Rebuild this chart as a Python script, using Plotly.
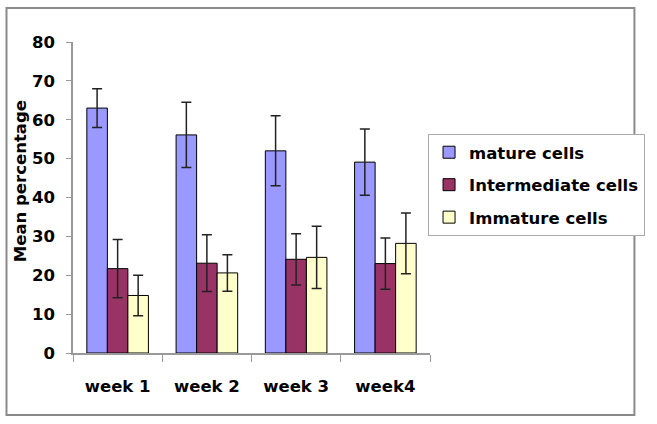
import plotly.graph_objects as go

categories = ["week 1", "week 2", "week 3", "week4"]
mature = [63.0, 56.1, 52.0, 49.1]
mature_err = [5.0, 8.4, 9.0, 8.5]
intermediate = [21.7, 23.1, 24.1, 23.0]
intermediate_err = [7.5, 7.3, 6.6, 6.6]
immature = [14.8, 20.6, 24.6, 28.2]
immature_err = [5.2, 4.7, 8.0, 7.8]
y_ticks = [0, 10, 20, 30, 40, 50, 60, 70, 80]
y_title = "Mean percentage"

series = [
    ("mature cells", mature, mature_err, "#9999FF"),
    ("Intermediate cells", intermediate, intermediate_err, "#993366"),
    ("Immature cells", immature, immature_err, "#FFFFCC"),
]

FONT = "DejaVu Sans"
FS = 16.5
fig = go.Figure()
for i, (name, vals, errs, col) in enumerate(series):
    fig.add_trace(go.Bar(
        x=categories, y=vals, name=name, legendgroup=f"g{i}",
        marker=dict(color=col, line=dict(color="#000000", width=1)),
        error_y=dict(type="data", array=errs, visible=True,
                     color="#222222", thickness=1.5, width=5),
    ))

W, H = 657, 424
ml, mr, mt, mb = 73, 219, 42, 71
pw, ph = W - ml - mr, H - mt - mb

def px_x(p):
    return (p - ml) / pw

def px_y(p):
    return (H - mb - p) / ph

fig.update_layout(
    width=W, height=H,
    margin=dict(l=ml, r=mr, t=mt, b=mb, pad=0),
    paper_bgcolor="white", plot_bgcolor="white",
    barmode="group", bargap=0.31, bargroupgap=0,
    font=dict(family=FONT, color="#000000", size=FS, weight="bold"),
    showlegend=True,
    legend=dict(
        x=px_x(436), y=px_y(134), xanchor="left", yanchor="top",
        bordercolor="#AAAAAA", borderwidth=1, bgcolor="white",
        font=dict(family=FONT, size=FS, color="#000000", weight="bold"),
        tracegroupgap=8, traceorder="grouped",
    ),
    xaxis=dict(
        showline=True, linecolor="#999999", linewidth=1.5,
        ticks="outside", tickson="boundaries", ticklen=7, tickcolor="#999999",
        tickfont=dict(family=FONT, size=FS, weight="bold"),
        ticklabelstandoff=17, showgrid=False,
    ),
    yaxis=dict(
        range=[0, 80], tickvals=y_ticks,
        showline=True, linecolor="#999999", linewidth=1.5,
        ticks="outside", ticklen=5, tickcolor="#999999",
        tickfont=dict(family=FONT, size=FS, weight="bold"),
        ticklabelstandoff=8, showgrid=False, zeroline=False,
    ),
    annotations=[dict(
        text=y_title, textangle=-90, showarrow=False,
        xref="paper", yref="paper", x=px_x(19), y=px_y(181),
        xanchor="center", yanchor="middle",
        font=dict(family=FONT, size=FS, weight="bold", color="#000000"),
    )],
    shapes=[dict(
        type="rect", xref="paper", yref="paper",
        x0=px_x(5), x1=px_x(647), y0=px_y(415), y1=px_y(8),
        line=dict(color="#8A8A8A", width=2), fillcolor="rgba(0,0,0,0)",
        layer="below",
    )],
)

fig.write_html("out.html", config={"displayModeBar": False},
               post_script="document.body.style.margin='0';")
